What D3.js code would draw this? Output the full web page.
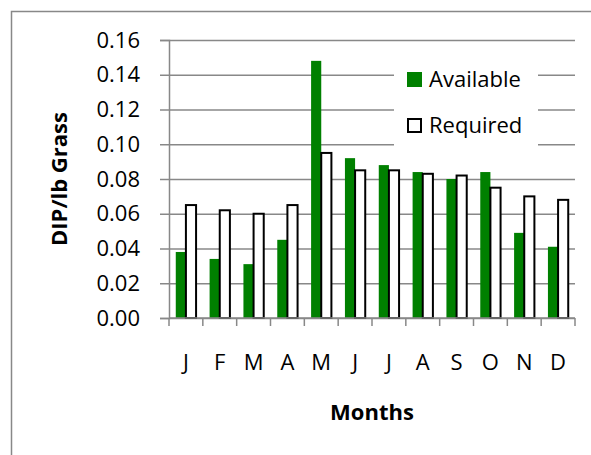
<!DOCTYPE html>
<html>
<head>
<meta charset="utf-8">
<script src="https://cdn.jsdelivr.net/npm/d3@7"></script>
<style>
  body { margin: 0; background: #fff; }
  text { font-family: "Open Sans", sans-serif; fill: #000; }
</style>
</head>
<body>
<div id="chart"></div>
<script>
// Data
const months = ["J", "F", "M", "A", "M ", "J ", "J  ", "A ", "S", "O", "N", "D"];
const monthLabels = ["J", "F", "M", "A", "M", "J", "J", "A", "S", "O", "N", "D"];
const available = [0.038, 0.034, 0.031, 0.045, 0.148, 0.092, 0.088, 0.084, 0.080, 0.084, 0.049, 0.041];
const required = [0.065, 0.062, 0.060, 0.065, 0.095, 0.085, 0.085, 0.083, 0.082, 0.075, 0.070, 0.068];
const seriesNames = ["Available", "Required"];
const yTicks = [0, 0.02, 0.04, 0.06, 0.08, 0.10, 0.12, 0.14, 0.16];

const W = 591, H = 455;
const margin = {top: 40, right: 16, bottom: 137, left: 169};
const width = W - margin.left - margin.right;
const height = H - margin.top - margin.bottom;
const grey = "#888";

const svgRoot = d3.select("#chart").append("svg")
  .attr("width", W)
  .attr("height", H);

// outer chart border (runs off the right and bottom edges)
svgRoot.append("rect")
  .attr("x", 11.5).attr("y", 11.5)
  .attr("width", 620).attr("height", 480)
  .attr("fill", "none")
  .attr("stroke", grey)
  .attr("stroke-width", 1.5);

const svg = svgRoot.append("g")
  .attr("transform", `translate(${margin.left},${margin.top})`);

const data = months.map((m, i) => ({month: m, Available: available[i], Required: required[i]}));

const x = d3.scaleBand().domain(months).range([0, width]).padding(0);
const bw = x.bandwidth();
const x1 = d3.scaleBand().domain(seriesNames).range([bw * 0.2, bw * 0.8]).padding(0);
const y = d3.scaleLinear().domain([0, 0.16]).range([height, 0]);

// gridlines
svg.append("g")
  .call(d3.axisRight(y).tickValues(yTicks).tickSize(width).tickFormat(""))
  .call(g => g.select(".domain").remove())
  .call(g => g.selectAll("line").attr("stroke", grey).attr("stroke-width", 1.5));

// y axis
svg.append("g")
  .call(d3.axisLeft(y).tickValues(yTicks).tickSize(9).tickPadding(20).tickFormat(d3.format(".2f")))
  .call(g => g.select(".domain").attr("stroke", grey).attr("stroke-width", 1.5))
  .call(g => g.selectAll("line").attr("stroke", grey).attr("stroke-width", 1.5))
  .call(g => g.selectAll("text").style("font-size", "22px").style("font-family", "Open Sans"));

// bars
const groups = svg.selectAll(".month")
  .data(data)
  .join("g")
  .attr("class", "month")
  .attr("transform", d => `translate(${x(d.month)},0)`);

groups.append("rect")
  .attr("x", x1("Available"))
  .attr("width", x1.bandwidth())
  .attr("y", d => y(d.Available))
  .attr("height", d => height - y(d.Available))
  .attr("fill", "#008000");

groups.append("rect")
  .attr("x", x1("Required"))
  .attr("width", x1.bandwidth())
  .attr("y", d => y(d.Required))
  .attr("height", d => height - y(d.Required))
  .attr("fill", "#fff")
  .attr("stroke", "#000")
  .attr("stroke-width", 2);

// x axis
const xAxis = svg.append("g")
  .attr("transform", `translate(0,${height})`)
  .call(d3.axisBottom(x).tickSize(0).tickPadding(36).tickFormat((d, i) => monthLabels[i]))
  .call(g => g.select(".domain").remove())
  .call(g => g.selectAll("text").style("font-size", "22px").style("font-family", "Open Sans"));

xAxis.append("line")
  .attr("x1", 0).attr("x2", width)
  .attr("stroke", grey).attr("stroke-width", 1.5);

xAxis.selectAll(".bound")
  .data(months.map(m => x(m)).concat([width]))
  .join("line")
  .attr("class", "bound")
  .attr("x1", d => d).attr("x2", d => d)
  .attr("y1", 0).attr("y2", 8)
  .attr("stroke", grey).attr("stroke-width", 1.5);

// axis titles
svg.append("text")
  .attr("x", width / 2)
  .attr("y", height + 102)
  .attr("text-anchor", "middle")
  .style("font-size", "22px")
  .style("font-weight", "bold")
  .text("Months");

svg.append("text")
  .attr("transform", "rotate(-90)")
  .attr("x", -height / 2)
  .attr("y", -margin.left + 67)
  .attr("text-anchor", "middle")
  .style("font-size", "22px")
  .style("font-weight", "bold")
  .text("DIP/lb Grass");

// legend
const legend = svgRoot.append("g");
legend.append("rect")
  .attr("x", 394).attr("y", 54)
  .attr("width", 144).attr("height", 96)
  .attr("fill", "#fff");

const legendRows = legend.selectAll(".lg")
  .data(seriesNames)
  .join("g")
  .attr("class", "lg")
  .attr("transform", (d, i) => `translate(407,${72 + i * 46})`);

legendRows.append("rect")
  .attr("x", d => d === "Required" ? 1 : 0)
  .attr("y", d => d === "Required" ? 1 : 0)
  .attr("width", d => d === "Required" ? 13 : 15)
  .attr("height", d => d === "Required" ? 13 : 15)
  .attr("fill", d => d === "Required" ? "#fff" : "#008000")
  .attr("stroke", d => d === "Required" ? "#000" : "none")
  .attr("stroke-width", 2);

legendRows.append("text")
  .attr("x", 22)
  .attr("y", 15)
  .style("font-size", "22px")
  .text(d => d);
</script>
</body>
</html>
